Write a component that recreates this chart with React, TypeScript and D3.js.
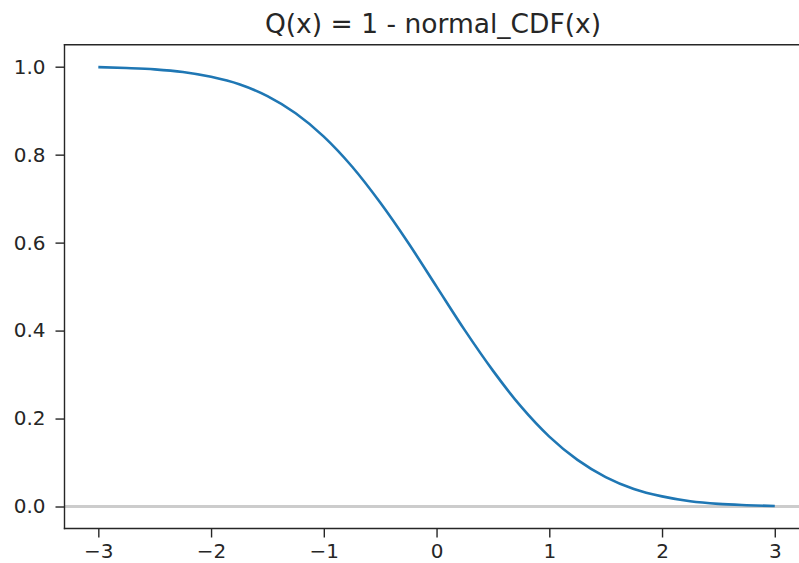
import React, { useRef, useEffect } from "react";
import * as d3 from "d3";

// x positions and Q(x) values
const xs = [-3, -2.75, -2.5, -2.25, -2, -1.75, -1.5, -1.25, -1, -0.75, -0.5, -0.25, 0,
  0.25, 0.5, 0.75, 1, 1.25, 1.5, 1.75, 2, 2.25, 2.5, 2.75, 3];
const qs = [0.999, 0.997, 0.994, 0.988, 0.977, 0.960, 0.933, 0.894, 0.841, 0.773, 0.691, 0.599, 0.5,
  0.401, 0.309, 0.227, 0.159, 0.106, 0.067, 0.040, 0.023, 0.012, 0.006, 0.003, 0.001];
const xTicks = [-3, -2, -1, 0, 1, 2, 3];
const yTicks = [0, 0.2, 0.4, 0.6, 0.8, 1.0];
const title = "Q(x) = 1 - normal_CDF(x)";

export default function App() {
  const svgRef = useRef<SVGSVGElement>(null);

  useEffect(() => {
    const svg = d3.select(svgRef.current);
    svg.selectAll("*").remove();

    const width = 799;
    const height = 563;
    const font = "DejaVu Sans, sans-serif";
    const ink = "#262626";

    // matplotlib-like 5% margins on both axes
    const x = d3.scaleLinear().domain([-3.3, 3.3]).range([64.5, 808.6]);
    const y = d3.scaleLinear().domain([-0.05, 1.05]).range([528.5, 44.7]);

    svg.attr("width", width).attr("height", height).style("background", "#fff");

    // reference line at zero
    svg.append("line")
      .attr("x1", x(-3.3)).attr("x2", x(3.3))
      .attr("y1", y(0)).attr("y2", y(0))
      .attr("stroke", "#cccccc")
      .attr("stroke-width", 3);

    const data = xs.map((v, i) => ({ x: v, q: qs[i] }));
    const line = d3.line<{ x: number; q: number }>()
      .x((d) => x(d.x))
      .y((d) => y(d.q))
      .curve(d3.curveMonotoneX);

    svg.append("path")
      .datum(data)
      .attr("d", line)
      .attr("fill", "none")
      .attr("stroke", "#1f77b4")
      .attr("stroke-width", 2.6);

    const xAxis = (g) =>
      g.attr("transform", `translate(0, ${y(-0.05)})`)
        .call(d3.axisBottom(x).tickValues(xTicks).tickSize(9).tickPadding(6)
          .tickFormat((d) => (d < 0 ? "\u2212" + Math.abs(d) : String(d))));
    const yAxis = (g) =>
      g.attr("transform", `translate(${x(-3.3)}, 0)`)
        .call(d3.axisLeft(y).tickValues(yTicks).tickSize(9).tickPadding(10)
          .tickFormat(d3.format(".1f")));

    const styleAxis = (g) => {
      g.select(".domain").remove();
      g.selectAll(".tick line").attr("stroke", ink).attr("stroke-width", 1.4);
      g.selectAll(".tick text").attr("fill", ink).attr("font-family", font).attr("font-size", 20);
    };

    svg.append("g").call(xAxis).call(styleAxis);
    svg.append("g").call(yAxis).call(styleAxis);

    // spines: left, bottom, top (right one falls outside the picture)
    const spines = [
      [x(-3.3), y(-0.05), x(-3.3), y(1.05)],
      [x(-3.3), y(-0.05), width, y(-0.05)],
      [x(-3.3), y(1.05), width, y(1.05)],
    ];
    svg.append("g")
      .selectAll("line")
      .data(spines)
      .join("line")
      .attr("x1", (d) => d[0]).attr("y1", (d) => d[1])
      .attr("x2", (d) => d[2]).attr("y2", (d) => d[3])
      .attr("stroke", ink)
      .attr("stroke-width", 1.4)
      .attr("stroke-linecap", "square");

    svg.append("text")
      .attr("x", 433).attr("y", 33)
      .attr("text-anchor", "middle")
      .attr("font-family", font)
      .attr("font-size", 26.5)
      .attr("fill", ink)
      .text(title);
  }, []);

  return (
    <div style={{ position: "absolute", left: 0, top: 0 }}>
      <svg ref={svgRef}></svg>
    </div>
  );
}
